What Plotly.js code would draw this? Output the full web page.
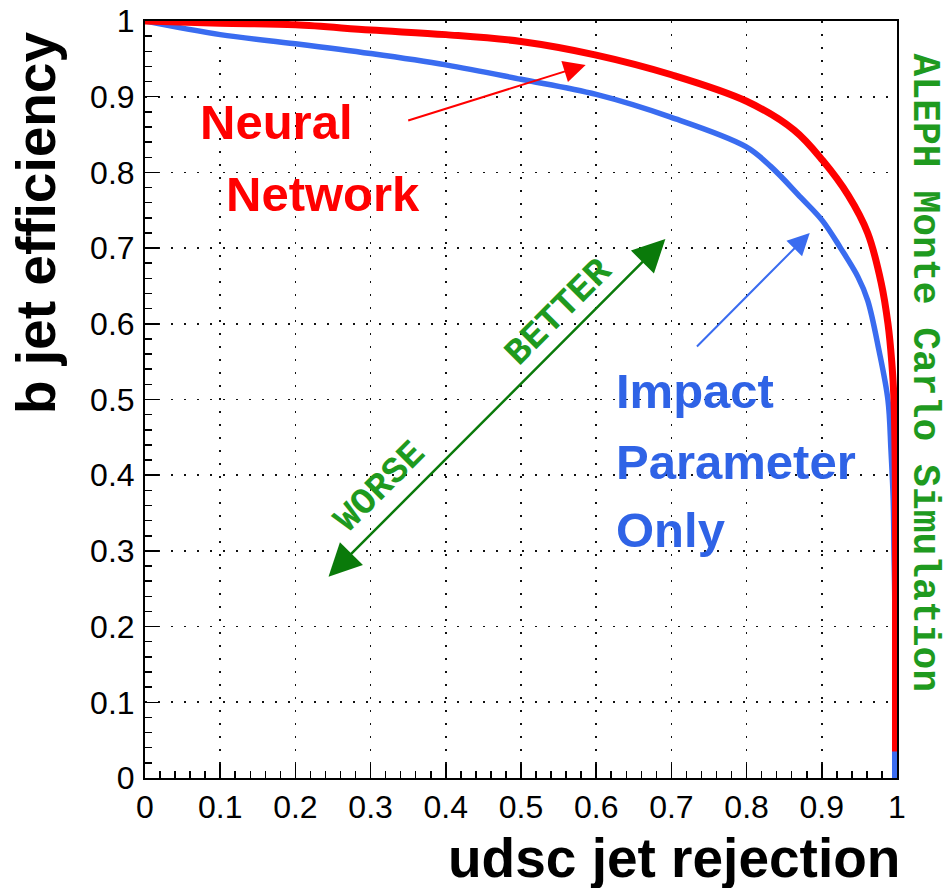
<!DOCTYPE html>
<html>
<head>
<meta charset="utf-8">
<script src="https://cdn.plot.ly/plotly-3.0.1.min.js"></script>
<style>
html,body{margin:0;padding:0;background:#fff;}
#chart{width:951px;height:888px;}
</style>
</head>
<body>
<div id="chart"></div>
<script>
// udsc jet rejection (x) vs b jet efficiency (y)
const nnRejection = [0, 0.1, 0.2, 0.3, 0.4, 0.5, 0.6, 0.7, 0.8, 0.863, 0.901, 0.935, 0.961, 0.979, 0.988, 0.993, 0.996, 0.998, 0.998, 0.998];
const nnEfficiency = [1.0, 0.997, 0.995, 0.988, 0.982, 0.973, 0.955, 0.929, 0.894, 0.856, 0.816, 0.770, 0.720, 0.654, 0.600, 0.550, 0.500, 0.370, 0.200, 0.035];

const ipRejection = [0, 0.1, 0.2, 0.3, 0.4, 0.5, 0.6, 0.699, 0.799, 0.832, 0.872, 0.901, 0.925, 0.948, 0.961, 0.976, 0.988, 0.992, 0.995, 0.996, 0.997, 0.997];
const ipEfficiency = [1.0, 0.982, 0.970, 0.957, 0.942, 0.923, 0.903, 0.873, 0.834, 0.808, 0.767, 0.736, 0.700, 0.662, 0.631, 0.565, 0.499, 0.433, 0.367, 0.301, 0.235, 0.0];

const tickValues = [0, 0.1, 0.2, 0.3, 0.4, 0.5, 0.6, 0.7, 0.8, 0.9, 1];
const tickLabels = ['0', '0.1', '0.2', '0.3', '0.4', '0.5', '0.6', '0.7', '0.8', '0.9', '1'];

const RED = '#ff0000';
const BLUE = '#3a6cf0';
const BLUE_TEXT = '#2f63e6';
const GREEN = '#0a7a0a';
const GREEN_TEXT = '#1f9a1f';

const traces = [
  {x: ipRejection, y: ipEfficiency, type: 'scatter', mode: 'lines', name: 'Impact Parameter Only',
   line: {color: BLUE, width: 5.5, shape: 'spline', smoothing: 1.0}},
  {x: nnRejection, y: nnEfficiency, type: 'scatter', mode: 'lines', name: 'Neural Network',
   line: {color: RED, width: 7, shape: 'spline', smoothing: 1.0}}
];

const axisCommon = {
  range: [0, 1],
  tickvals: tickValues,
  ticktext: tickLabels,
  ticks: 'inside',
  ticklen: 14,
  tickwidth: 1.5,
  tickcolor: '#000',
  showline: true,
  linecolor: '#000',
  linewidth: 2,
  mirror: true,
  zeroline: false,
  showgrid: true,
  gridcolor: '#111',
  gridwidth: 1.6,
  griddash: '2px,11px',
  tickfont: {family: 'Liberation Sans, Arial, sans-serif', size: 32, color: '#000'},
  minor: {dtick: 0.02, ticks: 'inside', ticklen: 7, tickwidth: 1.5, tickcolor: '#000', showgrid: false},
  fixedrange: true
};

const ann = [];
// axis titles (right/top aligned as in the original)
ann.push({xref: 'paper', yref: 'paper', x: 1.006, y: -0.106, xanchor: 'right', yanchor: 'middle',
  text: '<b>udsc jet rejection</b>', showarrow: false,
  font: {family: 'Liberation Sans, Arial, sans-serif', size: 55, color: '#000'}});
ann.push({xref: 'paper', yref: 'paper', x: -0.145, y: 0.988, xanchor: 'center', yanchor: 'top',
  text: '<b>b jet efficiency</b>', textangle: -90, showarrow: false,
  font: {family: 'Liberation Sans, Arial, sans-serif', size: 55, color: '#000'}});

// curve labels
const labFont = (c) => ({family: 'Liberation Sans, Arial, sans-serif', size: 49, color: c});
ann.push({x: 0.0706, y: 0.867, xanchor: 'left', yanchor: 'middle', text: '<b>Neural</b>', showarrow: false, font: labFont(RED)});
ann.push({x: 0.1045, y: 0.772, xanchor: 'left', yanchor: 'middle', text: '<b>Network</b>', showarrow: false, font: labFont(RED)});
ann.push({x: 0.623, y: 0.511, xanchor: 'left', yanchor: 'middle', text: '<b>Impact</b>', showarrow: false, font: labFont(BLUE_TEXT)});
ann.push({x: 0.623, y: 0.417, xanchor: 'left', yanchor: 'middle', text: '<b>Parameter</b>', showarrow: false, font: labFont(BLUE_TEXT)});
ann.push({x: 0.623, y: 0.327, xanchor: 'left', yanchor: 'middle', text: '<b>Only</b>', showarrow: false, font: labFont(BLUE_TEXT)});

// arrows
ann.push({x: 0.586, y: 0.942, ax: 0.348, ay: 0.868, axref: 'x', ayref: 'y', text: '', showarrow: true,
  arrowhead: 2, arrowsize: 2.2, arrowwidth: 2, arrowcolor: RED});
ann.push({x: 0.884, y: 0.720, ax: 0.732, ay: 0.568, axref: 'x', ayref: 'y', text: '', showarrow: true,
  arrowhead: 2, arrowsize: 2.2, arrowwidth: 2, arrowcolor: BLUE});
ann.push({x: 0.692, y: 0.712, ax: 0.242, ay: 0.264, axref: 'x', ayref: 'y', text: '', showarrow: true,
  arrowhead: 2, startarrowhead: 2, arrowside: 'end+start', arrowsize: 2.6, startarrowsize: 2.6, arrowwidth: 2.5, arrowcolor: GREEN});

const monoFont = (s) => ({family: 'Liberation Mono, Courier New, monospace', size: s, color: GREEN_TEXT});
ann.push({x: 0.551, y: 0.6156, text: '<b>BETTER</b>', textangle: -45, showarrow: false, font: monoFont(37)});
ann.push({x: 0.313, y: 0.384, text: '<b>WORSE</b>', textangle: -45, showarrow: false, font: monoFont(37)});
ann.push({xref: 'paper', yref: 'paper', x: 1.069, y: 0.535, text: '<b>ALEPH Monte Carlo Simulation</b>', textangle: 90,
  showarrow: false, font: monoFont(38)});

const layout = {
  width: 951, height: 888,
  margin: {l: 145, r: 54, t: 21, b: 110, pad: 0},
  paper_bgcolor: '#fff', plot_bgcolor: '#fff',
  showlegend: false,
  xaxis: Object.assign({}, axisCommon, {ticklabelstandoff: 0}),
  yaxis: Object.assign({}, axisCommon, {ticklabelstandoff: 2}),
  annotations: ann
};

Plotly.newPlot('chart', traces, layout, {displayModeBar: false, staticPlot: true});
</script>
</body>
</html>
